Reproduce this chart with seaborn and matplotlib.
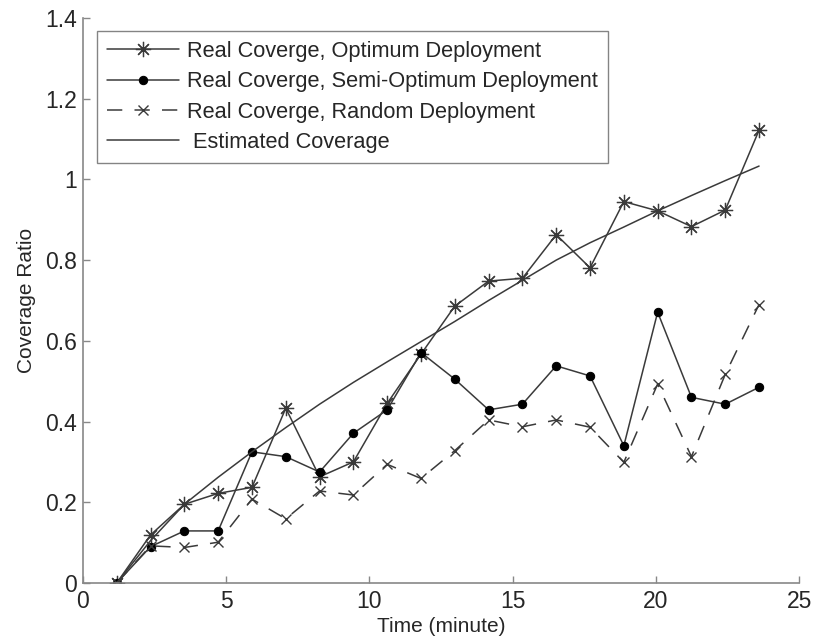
import matplotlib
matplotlib.use("Agg")
import matplotlib.pyplot as plt
import seaborn as sns

# data
time_min = [1.18, 2.36, 3.54, 4.72, 5.90, 7.08, 8.26, 9.44, 10.62, 11.80,
            12.98, 14.16, 15.34, 16.52, 17.70, 18.88, 20.06, 21.24, 22.42, 23.60]
optimum = [0.0, 0.119, 0.195, 0.222, 0.237, 0.433, 0.263, 0.300, 0.445, 0.567,
           0.686, 0.748, 0.755, 0.863, 0.781, 0.945, 0.922, 0.883, 0.924, 1.122]
semi_optimum = [0.0, 0.090, 0.129, 0.129, 0.325, 0.313, 0.275, 0.371, 0.429, 0.571,
                0.505, 0.429, 0.443, 0.538, 0.513, 0.340, 0.671, 0.460, 0.443, 0.485]
random_dep = [0.0, 0.092, 0.088, 0.101, 0.208, 0.159, 0.228, 0.218, 0.294, 0.259,
              0.328, 0.404, 0.387, 0.404, 0.386, 0.299, 0.493, 0.313, 0.517, 0.690]
estimated = [0.0, 0.105, 0.195, 0.262, 0.325, 0.385, 0.443, 0.497, 0.548, 0.598,
             0.648, 0.700, 0.750, 0.800, 0.843, 0.882, 0.922, 0.960, 0.997, 1.033]

labels = ["Real Coverge, Optimum Deployment",
          "Real Coverge, Semi-Optimum Deployment",
          "Real Coverge, Random Deployment",
          " Estimated Coverage"]

sns.set_style("white")
plt.rcParams['font.family'] = ['Liberation Sans', 'DejaVu Sans']

fig = plt.figure(figsize=(8.13, 6.41), dpi=100)
ax = fig.add_axes([0.102, 0.0905, 0.881, 0.8815])

line_col = "#3a3a3a"
# MATLAB-style asterisk: 8 spokes
sns.lineplot(x=time_min, y=optimum, ax=ax, color=line_col, lw=1.1,
             marker=(8, 2, 0), markersize=11, markeredgewidth=0.9,
             markeredgecolor=line_col, label=labels[0])
sns.lineplot(x=time_min, y=semi_optimum, ax=ax, color=line_col, lw=1.1,
             marker="o", markersize=6, markerfacecolor="black",
             markeredgecolor="black", label=labels[1])
sns.lineplot(x=time_min, y=random_dep, ax=ax, color=line_col, lw=1.1,
             linestyle=(0, (10, 8)), marker="x", markersize=7,
             markeredgewidth=1.0, markeredgecolor=line_col, label=labels[2])
sns.lineplot(x=time_min, y=estimated, ax=ax, color=line_col, lw=1.1,
             label=labels[3])

ax.set_xlim(0, 25)
ax.set_ylim(0, 1.4)
ax.set_xticks([0, 5, 10, 15, 20, 25])
ax.set_yticks([0, 0.2, 0.4, 0.6, 0.8, 1, 1.2, 1.4])
ax.set_yticklabels(["0", "0.2", "0.4", "0.6", "0.8", "1", "1.2", "1.4"])
ax.set_xlabel("Time (minute)", fontsize=15, labelpad=3)
ax.set_ylabel("Coverage Ratio", fontsize=15, labelpad=7)

for side in ["top", "right"]:
    ax.spines[side].set_visible(False)
for side in ["left", "bottom"]:
    ax.spines[side].set_color("#888888")
    ax.spines[side].set_linewidth(1.2)
ax.tick_params(direction="in", length=5, width=1, color="#888888",
               labelsize=16.5, left=True, bottom=True)
ax.tick_params(axis="y", pad=4)
ax.tick_params(axis="x", pad=5)

leg = ax.legend(loc="upper left", bbox_to_anchor=(0.0196, 0.977), fontsize=15.7,
                frameon=True, fancybox=False, edgecolor="#666666",
                handlelength=3.3, handletextpad=0.4, labelspacing=0.43,
                borderpad=0.45, borderaxespad=0)
leg.get_frame().set_linewidth(1.0)

plt.savefig("out.png", dpi=100)
